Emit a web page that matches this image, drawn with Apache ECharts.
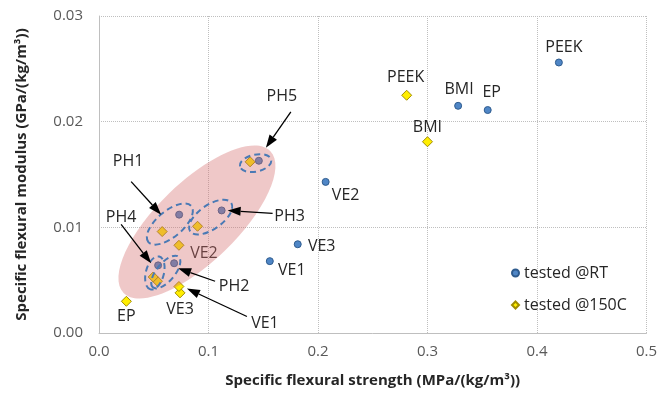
<!DOCTYPE html>
<html><head><meta charset="utf-8">
<script src="https://cdn.jsdelivr.net/npm/echarts@6/dist/echarts.min.js"></script>
<style>html,body{margin:0;padding:0;background:#fff}#c{width:660px;height:399px}</style>
</head><body><div id="c"></div>
<script>
// ---- data ----
const rtNames = ['PEEK','BMI','EP','VE2','VE3','VE1','PH1','PH2','PH3','PH4','PH5'];
const rtX = [0.420,0.328,0.355,0.207,0.1815,0.156,0.0732,0.0686,0.112,0.054,0.146];
const rtY = [0.0256,0.0215,0.0211,0.0143,0.0084,0.0068,0.0112,0.0066,0.0116,0.0064,0.0163];
const hotNames = ['PEEK','BMI','EP','VE2','VE3','VE1','PH1','PH2','PH3','PH4','PH5'];
const hotX = [0.281,0.300,0.025,0.073,0.074,0.073,0.0577,0.0534,0.090,0.0495,0.138];
const hotY = [0.0225,0.0181,0.0030,0.0083,0.0038,0.0044,0.0096,0.0049,0.0101,0.0053,0.0162];
const xTicks = [0,0.1,0.2,0.3,0.4,0.5];
const yTicks = [0,0.01,0.02,0.03];

// ---- annotation styling (pixel offsets of label text relative to its point) ----
const rtLabelOff = {PEEK:[5,-15],BMI:[1,-16],EP:[4,-18],VE2:[20,14],VE3:[24,2],VE1:[22,9],
  PH1:[-51,-53],PH2:[60,23],PH3:[68,6],PH4:[-37,-48],PH5:[23,-64]};
const hotLabelOff = {PEEK:[-1,-18],BMI:[0,-14],EP:[0,15],VE2:[25,8],VE3:[0,17],VE1:[86,37]};
// arrows: [series, name, start offset, end offset]
const arrows = [
  [0,'PH5',[32,-49],[7,-13]],
  [0,'PH1',[-48,-33],[-18,0]],
  [0,'PH3',[51,3],[6,0]],
  [0,'PH4',[-37,-41],[-7,-2]],
  [0,'PH2',[41,18],[4,5]],
  [1,'VE1',[68,30],[8,2]]
];
// ellipses: center in data coords, semi-axes px, rotation deg
const bigEllipse = {c:[0.0895,0.0105], a:102, b:40, rot:44};
const dashEllipses = [
  {c:[0.143,0.01608], a:16, b:8.5, rot:12},
  {c:[0.0647,0.01031], a:28, b:13, rot:40},
  {c:[0.102,0.01097], a:25, b:12, rot:35},
  {c:[0.051,0.00568], a:17, b:9, rot:75},
  {c:[0.061,0.00577], a:20, b:9, rot:50}
];

const FONT = 'Open Sans';
function mk(names, xs, ys, offs){
  return names.map((n,i)=>{
    const o = offs[n];
    return {name:n, value:[xs[i],ys[i]],
      label:{show: !!o, offset: o || [0,0]}};
  });
}

const chart = echarts.init(document.getElementById('c'), null, {renderer:'canvas'});
const labelStyle = {position:'inside', formatter:'{b}', color:'#262626', fontSize:16, fontFamily:FONT};
chart.setOption({
  animation:false,
  grid:{left:99, right:12, top:16, bottom:66},
  xAxis:{type:'value', min:xTicks[0], max:xTicks[xTicks.length-1], interval:0.1,
    name:'Specific flexural strength (MPa/(kg/m\u00B3))', nameLocation:'middle', nameGap:40,
    nameTextStyle:{fontFamily:FONT, fontWeight:'bold', fontSize:15, color:'#262626'},
    axisLine:{lineStyle:{color:'#bfbfbf'}}, axisTick:{show:false},
    axisLabel:{formatter:v=>v.toFixed(1), fontFamily:FONT, fontSize:15, color:'#595959', margin:11},
    splitLine:{lineStyle:{type:'dotted', color:'#bfbfbf'}}},
  yAxis:{type:'value', min:yTicks[0], max:yTicks[yTicks.length-1], interval:0.01,
    name:'Specific flexural modulus (GPa/(kg/m\u00B3))', nameLocation:'middle', nameGap:70,
    nameTextStyle:{fontFamily:FONT, fontWeight:'bold', fontSize:15, color:'#262626'},
    axisLine:{show:true, lineStyle:{color:'#bfbfbf'}}, axisTick:{show:false},
    axisLabel:{formatter:v=>v.toFixed(2), fontFamily:FONT, fontSize:15, color:'#595959', margin:16},
    splitLine:{lineStyle:{type:'dotted', color:'#bfbfbf'}}},
  legend:{orient:'vertical', left:506, top:260, itemGap:16, itemWidth:7, itemHeight:7,
    textStyle:{fontFamily:FONT, fontSize:16, color:'#262626'},
    data:[{name:'tested @RT', icon:'circle'},{name:'tested @150C', icon:'diamond'}]},
  series:[
    {name:'tested @RT', type:'scatter', symbol:'circle', symbolSize:7, z:3,
     itemStyle:{color:'#4f86c6', borderColor:'#2e5b8e', borderWidth:1, opacity:1},
     label:labelStyle, data:mk(rtNames,rtX,rtY,rtLabelOff)},
    {name:'tested @150C', type:'scatter', symbol:'diamond', symbolSize:10, z:2,
     itemStyle:{color:'#ffee00', borderColor:'#a08c00', borderWidth:1, opacity:1},
     label:labelStyle, data:mk(hotNames,hotX,hotY,hotLabelOff)}
  ]
});

function px(c){ return chart.convertToPixel({xAxisIndex:0, yAxisIndex:0}, c); }
const els = [];
const bc = px(bigEllipse.c);
els.push({type:'ellipse', x:bc[0], y:bc[1], rotation:bigEllipse.rot*Math.PI/180, z:10,
  shape:{cx:0, cy:0, rx:bigEllipse.a, ry:bigEllipse.b},
  style:{fill:'rgba(214,110,110,0.38)', stroke:null}});
dashEllipses.forEach(e=>{
  const p = px(e.c);
  els.push({type:'ellipse', x:p[0], y:p[1], rotation:e.rot*Math.PI/180, z:11,
    shape:{cx:0, cy:0, rx:e.a, ry:e.b},
    style:{fill:null, stroke:'#4a7ab5', lineWidth:2, lineDash:[6,4]}});
});
arrows.forEach(a=>{
  const names = a[0]===0 ? rtNames : hotNames;
  const xs = a[0]===0 ? rtX : hotX, ys = a[0]===0 ? rtY : hotY;
  const i = names.indexOf(a[1]);
  const p = px([xs[i], ys[i]]);
  const s = [p[0]+a[2][0], p[1]+a[2][1]], e = [p[0]+a[3][0], p[1]+a[3][1]];
  const dx = e[0]-s[0], dy = e[1]-s[1], L = Math.hypot(dx,dy), ux = dx/L, uy = dy/L;
  const hl = 13, hw = 4.5;
  const b = [e[0]-ux*hl, e[1]-uy*hl];
  els.push({type:'line', z:12, shape:{x1:s[0], y1:s[1], x2:b[0], y2:b[1]},
    style:{stroke:'#000', lineWidth:1.3}});
  els.push({type:'polygon', z:12, shape:{points:[e,[b[0]-uy*hw,b[1]+ux*hw],[b[0]+uy*hw,b[1]-ux*hw]]},
    style:{fill:'#000'}});
});
chart.setOption({graphic:{elements:els}});
</script></body></html>
